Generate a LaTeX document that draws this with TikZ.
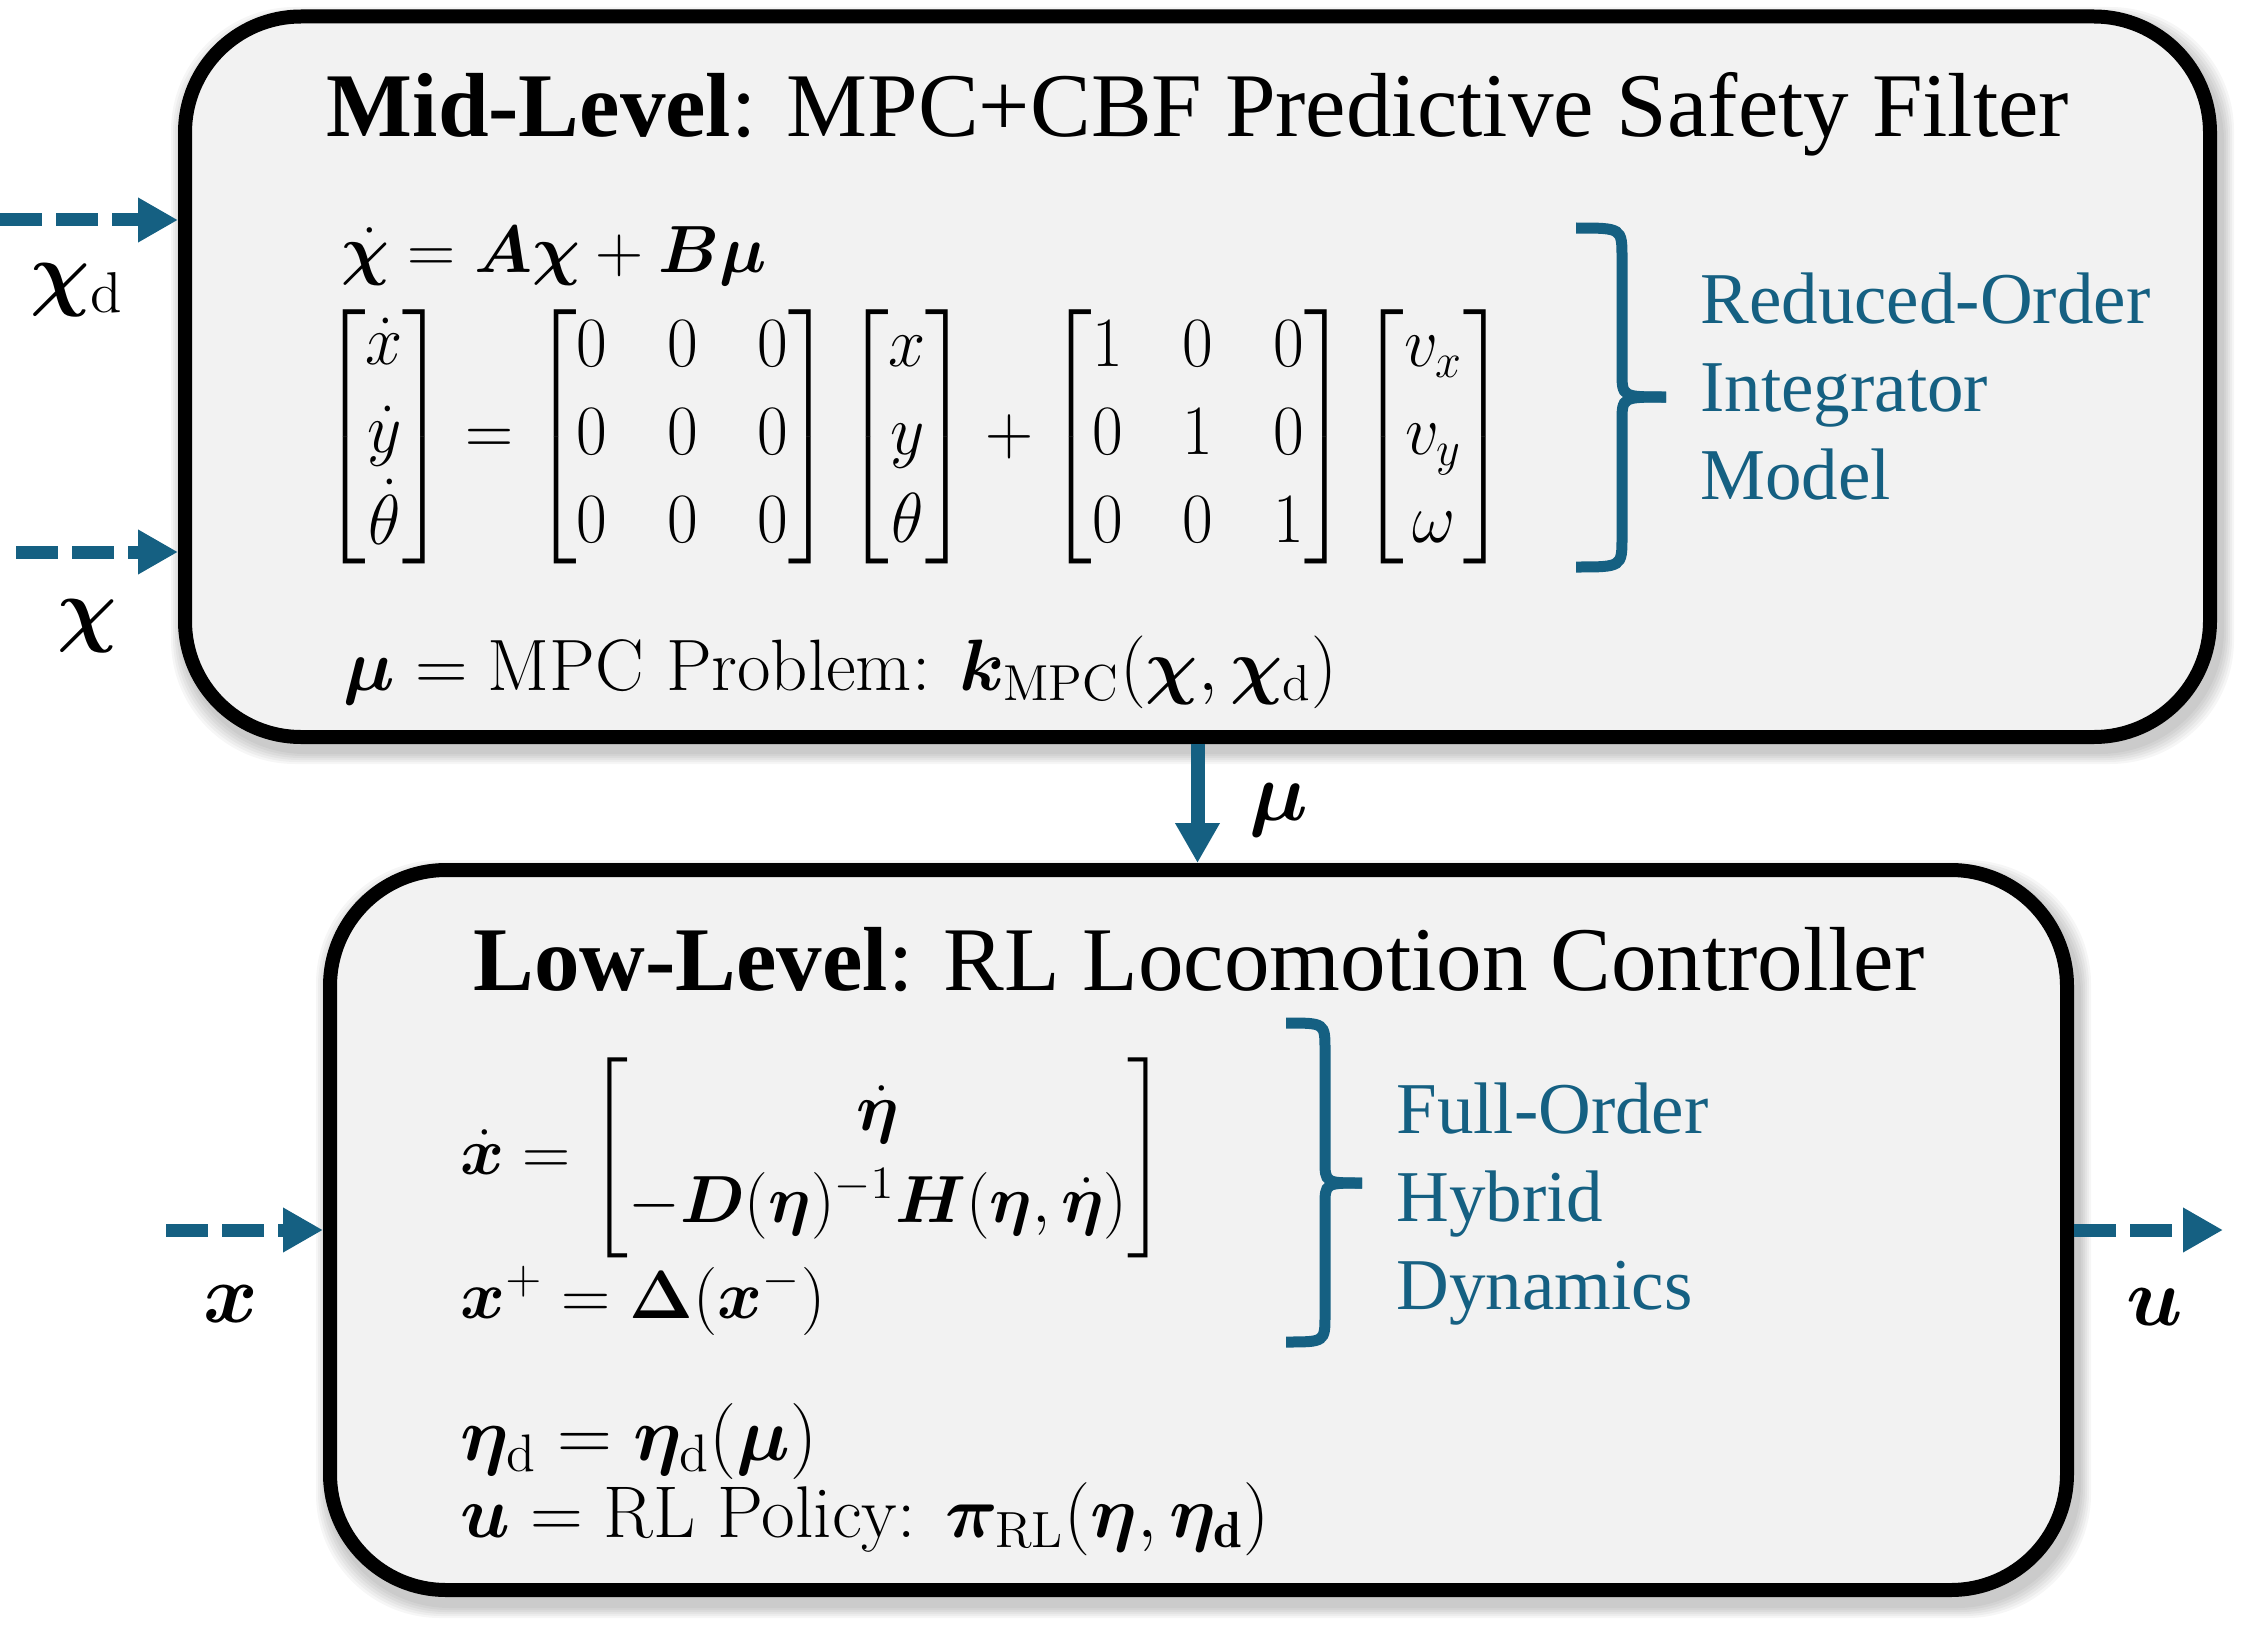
\documentclass[tikz,border=0pt]{standalone}
\usepackage{amsmath}
\usepackage{bm}
\usepackage{fontspec}
\newfontfamily\titlefont{Liberation Serif}
\usetikzlibrary{arrows.meta}
\definecolor{accent}{HTML}{156082}
\definecolor{boxgray}{HTML}{F2F2F2}
\tikzset{
  box/.style={draw=black, line width=7pt, fill=boxgray, rounded corners=58pt, inner sep=0pt},
  ttl/.style={anchor=base, inner sep=0pt, font=\titlefont\fontsize{45.5}{55}\selectfont},
  side/.style={anchor=base west, inner sep=0pt, text=accent, font=\titlefont\fontsize{36.5}{44}\selectfont},
  eq/.style={inner sep=0pt, font=\fontsize{20.74}{25}\selectfont},
  lbl/.style={anchor=base, inner sep=0pt, font=\fontsize{20.74}{25}\selectfont},
  dasharrow/.style={draw=accent, line width=6.5pt, dash pattern=on 21pt off 7pt, -{Triangle[length=20pt,width=21pt]}},
  solidarrow/.style={draw=accent, line width=7pt, -{Triangle[length=20pt,width=21pt]}},
  bracestroke/.style={draw=accent, line width=5.5pt},
  shadowlayer/.style={fill=black, opacity=0.035, rounded corners=62pt}
}
\begin{document}
\begin{tikzpicture}[x=0.5pt, y=-0.5pt]
\fill[white] (0,0) rectangle (2267,1627);
\useasboundingbox (0,0) rectangle (2267,1627);
% soft shadows
\foreach \i in {1,...,6} {
  \fill[shadowlayer] ({183-\i*2},{19-\i*2}) rectangle ({2222+\i*2},{752+\i*2});
  \fill[shadowlayer] ({328-\i*2},{872-\i*2}) rectangle ({2079+\i*2},{1606+\i*2});
}
% boxes
\node[box, minimum width=1012.5pt, minimum height=360.25pt] (mid) at (1197.5,376.75) {};
\node[box, minimum width=868.5pt, minimum height=360pt] (low) at (1198.5,1230) {};
% titles
\node[ttl] (midtitle) at (1198,137) {\textbf{Mid-Level}: MPC+CBF Predictive Safety Filter};
\node[ttl] (lowtitle) at (1199,990) {\textbf{Low-Level}: RL Locomotion Controller};
% mid-level equations
\node[eq, anchor=base west] (mideqa) at (341,272) {\resizebox{212.5pt}{!}{$\dot{\bm{\chi}} = \bm{A}\bm{\chi} + \bm{B}\bm{\mu}$}};
\node[eq, anchor=west] (mideqb) at (321,437) {\resizebox*{593pt}{133.5pt}{\renewcommand{\arraystretch}{1.03}\setlength{\arraycolsep}{0.45em}$
\begin{bmatrix}\dot{x}\\ \dot{y}\\ \dot{\theta}\end{bmatrix}
=
\begin{bmatrix}0&0&0\\0&0&0\\0&0&0\end{bmatrix}
\begin{bmatrix}x\\ y\\ \theta\end{bmatrix}
+
\begin{bmatrix}1&0&0\\0&1&0\\0&0&1\end{bmatrix}
\begin{bmatrix}v_x\\ v_y\\ \omega\end{bmatrix}$}};
\node[eq, anchor=base west] (mideqc) at (343,690) {\resizebox{497pt}{!}{$\bm{\mu} = \text{MPC Problem: }\bm{k}_{\mathrm{MPC}}(\bm{\chi},\bm{\chi}_{\mathrm{d}})$}};
% low-level equations
\node[eq, anchor=west] (loweqa) at (460,1158) {\resizebox{353pt}{!}{\renewcommand{\arraystretch}{1.15}$\dot{\bm{x}} = \begin{bmatrix}\dot{\bm{\eta}}\\ -\bm{D}(\bm{\eta})^{-1}\bm{H}(\bm{\eta},\dot{\bm{\eta}})\end{bmatrix}$}};
\node[eq, anchor=base west] (loweqb) at (460,1318) {\resizebox{182.5pt}{!}{$\bm{x}^{+} = \bm{\Delta}(\bm{x}^{-})$}};
\node[eq, anchor=base west] (loweqc) at (460,1460) {\resizebox{178.5pt}{!}{$\bm{\eta}_{\mathrm{d}} = \bm{\eta}_{\mathrm{d}}(\bm{\mu})$}};
\node[eq, anchor=base west] (loweqd) at (460,1537) {\resizebox{404.5pt}{!}{$\bm{u} = \text{RL Policy: }\bm{\pi}_{\mathrm{RL}}(\bm{\eta},\bm{\eta}_{\mathbf{d}})$}};
% side labels
\node[side] (midside) at (1700,323) {\vtop{\baselineskip=44pt\hbox{Reduced-Order}\hbox{Integrator}\hbox{Model}}};
\node[side] (lowside) at (1396,1133) {\vtop{\baselineskip=44pt\hbox{Full-Order}\hbox{Hybrid}\hbox{Dynamics}}};
% braces
\draw[bracestroke] (1576,228) .. controls (1622,228) .. (1622,258) -- (1622,372) .. controls (1622,397) .. (1666,397);
\draw[bracestroke] (1666,397) .. controls (1622,397) .. (1622,422) -- (1622,537) .. controls (1622,567) .. (1576,567);
\draw[bracestroke] (1286,1023) .. controls (1325,1023) .. (1325,1050) -- (1325,1160) .. controls (1325,1183) .. (1362,1183);
\draw[bracestroke] (1362,1183) .. controls (1325,1183) .. (1325,1206) -- (1325,1315) .. controls (1325,1342) .. (1286,1342);
% connectors
\coordinate (cdin) at (0,220);
\coordinate (chin) at (16,552);
\coordinate (xin) at (166,1230);
\coordinate (uout) at (2223,1230);
\draw[dasharrow] (cdin) -- (cdin -| mid.west);
\draw[dasharrow] (chin) -- (chin -| mid.west);
\draw[dasharrow] (xin) -- (low.west);
\draw[dasharrow] (low.east) -- (uout);
\draw[solidarrow] (mid.south) -- (mid.south |- low.north);
% labels
\node[lbl] (lchid) at (77,300) {\scalebox{2}{$\bm{\chi}_{\mathrm{d}}$}};
\node[lbl] (lchi) at (87,636) {\scalebox{2}{$\bm{\chi}$}};
\node[lbl] (lmu) at (1279,820) {\scalebox{2}{$\bm{\mu}$}};
\node[lbl] (lx) at (231,1322) {\scalebox{2}{$\bm{x}$}};
\node[lbl] (lu) at (2155,1325) {\scalebox{2}{$\bm{u}$}};
\end{tikzpicture}
\end{document}
